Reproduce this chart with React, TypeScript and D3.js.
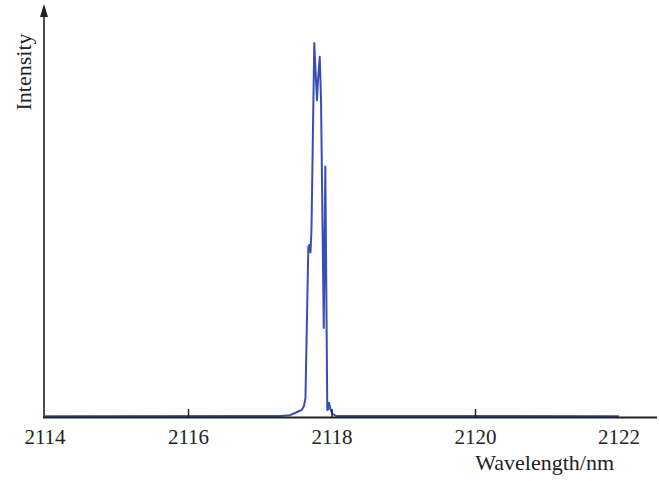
import React from "react";
import * as d3 from "d3";

const wavelengths = [2114.0, 2117.275, 2117.415, 2117.5, 2117.578, 2117.61, 2117.63, 2117.67, 2117.683, 2117.7, 2117.714, 2117.753, 2117.777, 2117.791, 2117.805, 2117.829, 2117.847, 2117.885, 2117.907, 2117.934, 2117.944, 2117.958, 2117.98, 2118.01, 2118.055, 2122.0];
const intensities = [0.002, 0.003, 0.005, 0.012, 0.019, 0.03, 0.05, 0.455, 0.46, 0.44, 0.5, 1.0, 0.9, 0.847, 0.9, 0.963, 0.85, 0.238, 0.67, 0.019, 0.02, 0.038, 0.02, 0.008, 0.003, 0.002];
const tickValues = [2114, 2116, 2118, 2120, 2122];
const innerTicks = [2116, 2118, 2120];

export default function App() {
  const x = d3.scaleLinear().domain([2114, 2122]).range([45, 619]);
  const y = d3.scaleLinear().domain([0, 1]).range([417, 43]);
  const data = wavelengths.map((w, i) => [w, intensities[i]] as [number, number]);
  const line = d3.line<[number, number]>().x(d => x(d[0])).y(d => y(d[1]));
  const font = "'Liberation Serif', 'Times New Roman', serif";
  const axisColor = "#222";
  return (
    <svg width={659} height={481} style={{ position: "absolute", left: 0, top: 0, background: "#fff" }}>
      <path d={line(data) || ""} fill="none" stroke="#3a4db5" strokeWidth={2} strokeLinejoin="round" />
      {/* x axis */}
      <line x1={43} x2={657} y1={417.5} y2={417.5} stroke={axisColor} strokeWidth={2.2} />
      {innerTicks.map(t => (
        <line key={t} x1={x(t)} x2={x(t)} y1={417} y2={409} stroke={axisColor} strokeWidth={1.5} />
      ))}
      {tickValues.map(t => (
        <text key={t} x={x(t)} y={443.5} textAnchor="middle" fontFamily={font} fontSize={21} fill="#222">{t}</text>
      ))}
      <text x={614} y={470} textAnchor="end" fontFamily={font} fontSize={22} fill="#222">Wavelength/nm</text>
      {/* y axis */}
      <line x1={44} x2={44} y1={418} y2={14} stroke={axisColor} strokeWidth={1.6} />
      <path d="M44,4 L40,17 L48,17 Z" fill={axisColor} />
      <text transform="translate(31,72) rotate(-90)" textAnchor="middle" fontFamily={font} fontSize={22} fill="#222">Intensity</text>
    </svg>
  );
}
